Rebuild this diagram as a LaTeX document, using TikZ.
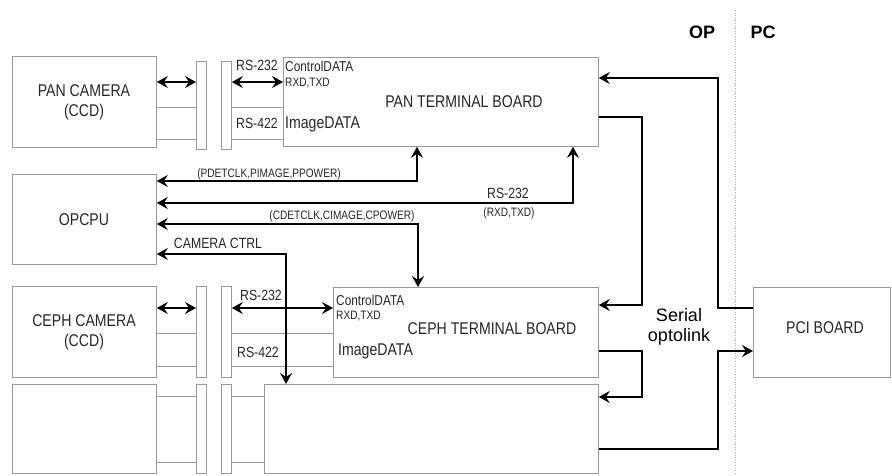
\documentclass[tikz,border=0pt]{standalone}
\usepackage{fontspec}
\setmainfont{Liberation Sans}
\newfontfamily\nar[FakeStretch=0.83]{Liberation Sans}
\usetikzlibrary{arrows.meta}
\tikzset{
  box/.style={draw=black!40, line width=0.8pt, inner sep=0pt, anchor=north west},
  strip/.style={box, minimum width=10pt},
  thin/.style={draw=black!40, line width=0.8pt},
  bus/.style={draw=black, line width=2.4pt},
  >={Stealth[length=11pt,width=12pt,inset=4pt]},
  big/.style={font=\nar\fontsize{17}{20}\selectfont, inner sep=0pt, align=center, text=black!85},
  mid/.style={font=\nar\fontsize{14.8}{16}\selectfont, inner sep=0pt, text=black!85},
  sml/.style={font=\nar\fontsize{12.2}{13}\selectfont, inner sep=0pt, text=black!85},
  ctl/.style={font=\nar\fontsize{14.3}{15}\selectfont, inner sep=0pt, anchor=west, text=black!85},
}
\begin{document}
\begin{tikzpicture}[x=1pt,y=-1pt]
\useasboundingbox (0,0) rectangle (892,475);
% divider
\draw[black!35, line width=0.6pt, dotted] (735,10) -- (735,475);
\node[font=\bfseries\fontsize{18}{20}\selectfont, inner sep=0pt] (op) at (702,32) {OP};
\node[font=\bfseries\fontsize{18}{20}\selectfont, inner sep=0pt] (pc) at (763,32) {PC};

% left boxes
\node[box, minimum width=144pt, minimum height=91pt] (pancam) at (12,56) {};
\node[box, minimum width=144pt, minimum height=90pt] (opcpu) at (12,174) {};
\node[box, minimum width=144pt, minimum height=91pt] (cephcam) at (12,286) {};
\node[box, minimum width=144pt, minimum height=89pt] (botcam) at (12,384) {};
\node[big] (pancamt) at (84,102) {PAN CAMERA\\(CCD)};
\node[big] (opcput) at (84,220) {OPCPU};
\node[big] (cephcamt) at (84,332) {CEPH CAMERA\\(CCD)};

% strips
\node[strip, minimum height=88pt] (ps1) at (196,61) {};
\node[strip, minimum height=88pt] (ps2) at (221,61) {};
\node[strip, minimum height=91pt] (cs1) at (196,286) {};
\node[strip, minimum height=91pt] (cs2) at (221,286) {};
\node[strip, minimum height=89pt] (bs1) at (196,384) {};
\node[strip, minimum height=89pt] (bs2) at (221,384) {};

% boards
\node[box, minimum width=315pt, minimum height=89pt] (panbd) at (283,57) {};
\node[box, minimum width=265pt, minimum height=90pt] (cephbd) at (333,287) {};
\node[box, minimum width=334pt, minimum height=89pt] (botbd) at (264,384) {};
\node[box, minimum width=137pt, minimum height=90pt] (pci) at (753,287) {};
\node[big] (panbdt) at (464,102) {PAN TERMINAL BOARD};
\node[big] (cephbdt) at (492,329) {CEPH TERMINAL BOARD};
\node[big] (pcit) at (825,328) {PCI BOARD};

% board inner labels
\node[ctl] (pctl) at (285,66) {ControlDATA};
\node[sml, anchor=west] (prx) at (285,83) {RXD,TXD};
\node[big, anchor=west] (pimg) at (285,124) {ImageDATA};
\node[ctl] (cctl) at (336,300) {ControlDATA};
\node[sml, anchor=west] (crx) at (336,316) {RXD,TXD};
\node[big, anchor=west] (cimg) at (338,351) {ImageDATA};

% RS labels
\node[mid] (prs232) at (257,65) {RS-232};
\node[mid] (prs422) at (257,123) {RS-422};
\node[mid] (crs232) at (261,295) {RS-232};
\node[mid] (crs422) at (258,352) {RS-422};

% pan camera links
\draw[bus, <->] (pancam.east |- 0,82) -- (ps1.west |- 0,82);
\draw[thin] (pancam.east |- 0,107) -- (ps1.west |- 0,107);
\draw[thin] (pancam.east |- 0,139) -- (ps1.west |- 0,139);
\draw[bus, <->] (ps2.east |- 0,82) -- (panbd.west |- 0,82);
\draw[thin] (ps2.east |- 0,107) -- (panbd.west |- 0,107);
\draw[thin] (ps2.east |- 0,139) -- (panbd.west |- 0,139);
% ceph camera links
\draw[bus, <->] (cephcam.east |- 0,308) -- (cs1.west |- 0,308);
\draw[thin] (cephcam.east |- 0,333) -- (cs1.west |- 0,333);
\draw[thin] (cephcam.east |- 0,366) -- (cs1.west |- 0,366);
\draw[bus, <->] (cs2.east |- 0,308) -- (cephbd.west |- 0,308);
\draw[thin] (cs2.east |- 0,333) -- (cephbd.west |- 0,333);
\draw[thin] (cs2.east |- 0,366) -- (cephbd.west |- 0,366);
% bottom links
\draw[thin] (botcam.east |- 0,396) -- (bs1.west |- 0,396);
\draw[thin] (botcam.east |- 0,462) -- (bs1.west |- 0,462);
\draw[thin] (bs2.east |- 0,396) -- (botbd.west |- 0,396);
\draw[thin] (bs2.east |- 0,462) -- (botbd.west |- 0,462);

% OPCPU buses
\draw[bus, <->] (opcpu.east |- 0,181) -- (417,181) -- (panbd.south -| 417,0);
\node[sml] (pdet) at (269,174) {(PDETCLK,PIMAGE,PPOWER)};
\draw[bus, <->] (opcpu.east |- 0,203) -- (573,203) -- (panbd.south -| 573,0);
\node[mid] (mrs232) at (508,193) {RS-232};
\node[sml] (mrx) at (509,213) {(RXD,TXD)};
\draw[bus, <->] (opcpu.east |- 0,224) -- (418,224) -- (cephbd.north -| 418,0);
\node[sml] (cdet) at (342,216) {(CDETCLK,CIMAGE,CPOWER)};
\draw[bus, <->] (opcpu.east |- 0,254) -- (286,254) -- (botbd.north -| 286,0);
\node[mid] (camctrl) at (218,243) {CAMERA CTRL};

% optolink
\draw[bus, ->] (pci.west |- 0,308) -- (718,308) -- (718,78) -- (panbd.east |- 0,78);
\draw[bus, ->] (panbd.east |- 0,117) -- (642,117) -- (642,305) -- (cephbd.east |- 0,305);
\draw[bus, ->] (cephbd.east |- 0,351) -- (642,351) -- (642,397) -- (botbd.east |- 0,397);
\draw[bus, ->] (botbd.east |- 0,449) -- (718,449) -- (718,351) -- (pci.west |- 0,351);
\node[font=\fontsize{18}{20}\selectfont, inner sep=0pt, align=center] (opto) at (679,327) {Serial\\optolink};
\end{tikzpicture}
\end{document}
